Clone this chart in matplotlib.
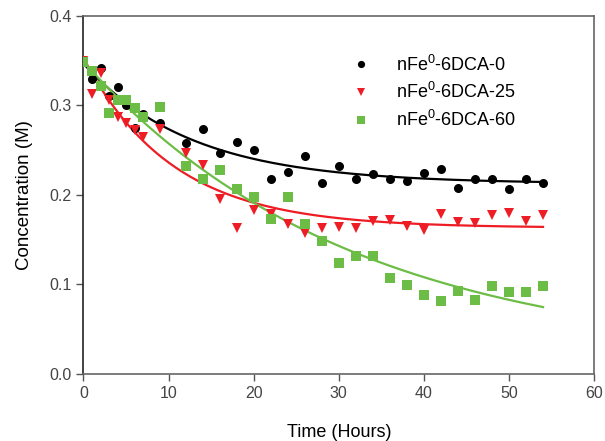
import numpy as np
import matplotlib
matplotlib.use('Agg')
import matplotlib.pyplot as plt

plt.rcParams['font.family'] = ['Liberation Sans', 'DejaVu Sans']
plt.rcParams['mathtext.default'] = 'regular'

# sampling times (hours)
time_h = [0, 1, 2, 3, 4, 5, 6, 7, 9, 12, 14, 16, 18, 20, 22, 24, 26, 28,
          30, 32, 34, 36, 38, 40, 42, 44, 46, 48, 50, 52, 54]

conc_0 = [0.350, 0.330, 0.342, 0.310, 0.320, 0.300, 0.275, 0.290, 0.280,
          0.258, 0.274, 0.247, 0.259, 0.250, 0.218, 0.226, 0.243, 0.213,
          0.232, 0.218, 0.223, 0.218, 0.216, 0.225, 0.229, 0.208, 0.218,
          0.218, 0.207, 0.218, 0.213]
conc_25 = [0.350, 0.313, 0.336, 0.306, 0.287, 0.280, 0.273, 0.265, 0.274,
           0.247, 0.233, 0.196, 0.163, 0.183, 0.179, 0.168, 0.157, 0.163,
           0.164, 0.163, 0.171, 0.172, 0.165, 0.161, 0.179, 0.170, 0.169,
           0.178, 0.180, 0.171, 0.178]
conc_60 = [0.349, 0.338, 0.322, 0.292, 0.306, 0.306, 0.297, 0.287, 0.298,
           0.232, 0.218, 0.228, 0.207, 0.198, 0.173, 0.198, 0.168, 0.149,
           0.124, 0.132, 0.132, 0.107, 0.099, 0.088, 0.081, 0.093, 0.083,
           0.098, 0.092, 0.092, 0.098]

labels = [r'nFe$^0$-6DCA-0', r'nFe$^0$-6DCA-25', r'nFe$^0$-6DCA-60']


def fit_decay(t, c):
    # c = a + b*exp(-k t), grid search on k, least squares for a, b
    t = np.asarray(t, float)
    c = np.asarray(c, float)
    best = None
    for k in np.linspace(0.005, 0.3, 600):
        A = np.column_stack([np.ones_like(t), np.exp(-k * t)])
        coef, res, _, _ = np.linalg.lstsq(A, c, rcond=None)
        err = np.sum((A @ coef - c) ** 2)
        if best is None or err < best[0]:
            best = (err, coef[0], coef[1], k)
    return best[1:]


fig = plt.figure(figsize=(6.05, 4.41), dpi=100)
ax = fig.add_axes([0.138, 0.152, 0.844, 0.812])

series = [
    (conc_0, 'o', 'black', 'black', 6.5),
    (conc_25, 'v', '#ee1c24', '#ee1c24', 7.5),
    (conc_60, 's', '#6cbd45', '#6cbd45', 7),
]

tt = np.linspace(0, max(time_h), 200)
for (c, m, mc, lc, ms), lab in zip(series, labels):
    a, b, k = fit_decay(time_h, c)
    ax.plot(tt, a + b * np.exp(-k * tt), color=lc, lw=1.6, zorder=2)
    ax.plot(time_h, c, m, color=mc, ms=ms, mew=0, label=lab, zorder=3)

ax.set_xlim(0, 60)
ax.set_ylim(0, 0.4)
ax.set_xticks([0, 10, 20, 30, 40, 50, 60])
ax.set_yticks([0.0, 0.1, 0.2, 0.3, 0.4])
ax.yaxis.set_major_formatter(matplotlib.ticker.FormatStrFormatter('%.1f'))
ax.tick_params(direction='out', length=5, width=1, colors='#555555',
               labelsize=11.5, labelcolor='#444444', top=False, right=False)
for side in ['top', 'right', 'bottom']:
    ax.spines[side].set_color('#666666')
ax.spines['left'].set_color('#222222')
for s in ax.spines.values():
    s.set_linewidth(1.2)

ax.set_xlabel('Time (Hours)', fontsize=13, labelpad=17)
ax.set_ylabel('Concentration (M)', fontsize=13.5, labelpad=12)

ax.legend(loc='upper left', bbox_to_anchor=(0.485, 0.937), frameon=False,
          fontsize=13, handletextpad=1.2, labelspacing=0.42,
          markerscale=0.8, handlelength=1.5)

fig.savefig('out.png', dpi=100)
